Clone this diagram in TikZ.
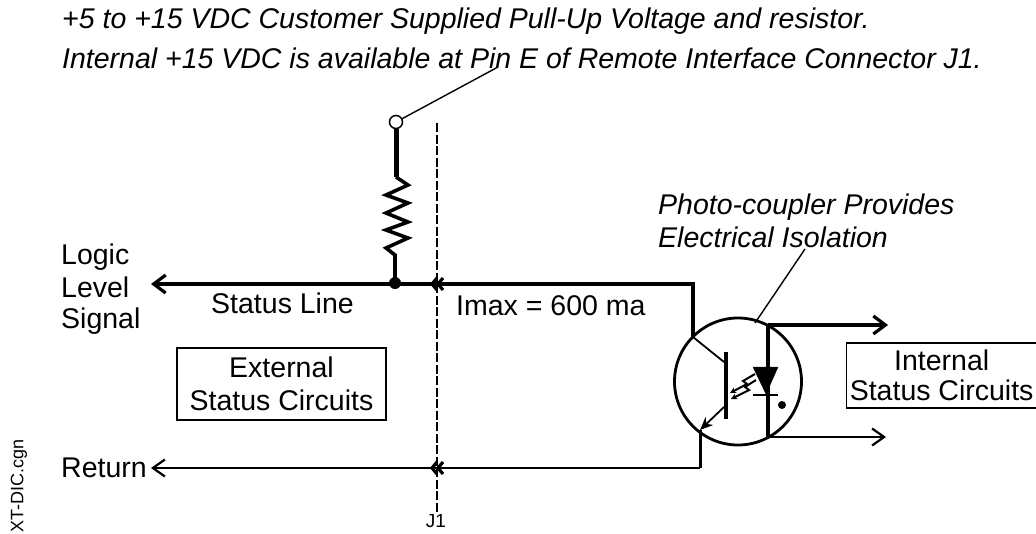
\documentclass[tikz,border=0pt]{standalone}
\usepackage{fontspec}
\setmainfont{Liberation Sans}
\usetikzlibrary{arrows.meta}
\tikzset{
  thick line/.style={line width=3.2pt},
  thin line/.style={line width=1.4pt},
  openhead/.style={-{Straight Barb[length=12pt,width=17pt,line width=2.2pt]}},
  boldhead/.style={-{Straight Barb[length=12pt,width=18pt,line width=3.2pt]}},
  lab/.style={inner sep=0pt,font=\fontsize{28.5}{32}\selectfont,text=black},
  ital/.style={lab,font=\fontsize{28.5}{32}\selectfont\itshape,anchor=west},
  pinmark/.style={line width=3.2pt,line join=miter},
}
\begin{document}
\begin{tikzpicture}[x=1pt,y=-1pt,line join=miter]
\useasboundingbox (0,0) rectangle (1036,533);
% heading
\node[ital] (h1) at (62,21) {+5 to +15 VDC Customer Supplied Pull-Up Voltage and resistor.};
\node[ital] (h2) at (62,58) {Internal +15 VDC is available at Pin E of Remote Interface Connector J1.};
% pull-up
\node[circle,draw,line width=1.5pt,fill=white,minimum size=13pt,inner sep=0pt] (pin) at (396,122) {};
\coordinate (leader) at (498,67);
\draw[thin line] (pin) -- (leader);
\coordinate (rtop) at (396,177);
\coordinate (rbot) at (395,283);
\draw[line width=5pt] (pin) -- (rtop);
\draw[line width=3.6pt] (rtop) -- (408,185) -- (386,195) -- (408,203) -- (386,213) -- (408,222) -- (386,230) -- (408,238) -- (386,248) -- (395,255) -- (rbot);
\node[circle,fill=black,minimum size=12pt,inner sep=0pt] (dot) at (rbot) {};
% J1 dashed
\coordinate (jtop) at (437,123);
\coordinate (jbot) at (437,512);
\draw[line width=1.3pt,dash pattern=on 9pt off 2.5pt] (jtop) -- (jbot);
\node[lab,font=\fontsize{19}{19}\selectfont] (j1) at (436,521) {J1};
% status line
\coordinate (slr) at (693,284);
\coordinate (sll) at (151,284);
\coordinate (q1) at (693,337);
\draw[thick line,boldhead] (q1) -- (slr) -- (sll);
\draw[pinmark] (437,278) -- (432,284) -- (437,290) (443,278) -- (438,284) -- (443,290);
% return
\coordinate (q2) at (700,430);
\coordinate (rr) at (700,468);
\coordinate (rl) at (151,468);
\draw[line width=3pt] (q2) -- (rr);
\draw[line width=2.2pt,openhead] (rr) -- (rl);
\draw[pinmark] (437,462) -- (432,468) -- (437,474) (443,462) -- (438,468) -- (443,474);
% labels left
\node[lab,anchor=west] (l1) at (61,257) {Logic};
\node[lab,anchor=west] (l2) at (61,287) {Level};
\node[lab,anchor=west] (l3) at (61,321) {Signal};
\node[lab,anchor=west] (sl) at (211,303) {Status Line};
\node[lab,anchor=west] (im) at (456,306) {Imax = 600 ma};
\node[lab,anchor=west] (ret) at (61,468) {Return};
\node[draw,line width=1.3pt,minimum width=209pt,minimum height=72pt,inner sep=0pt,align=center,font=\fontsize{28.5}{33}\selectfont] (ext) at (281.5,384) {External\\Status Circuits};
\node[draw,line width=1.3pt,minimum width=190pt,minimum height=65pt,inner sep=0pt,align=center,anchor=west,font=\fontsize{28.5}{30}\selectfont] (int) at (846,375.5) {\raisebox{-1pt}{Internal}\\\raisebox{-1pt}{Status Circuits}};
\node[ital] (ph1) at (658,207) {Photo-coupler Provides};
\node[ital] (ph2) at (658,237) {Electrical Isolation};
\coordinate (phl) at (805,249);
% photocoupler
\node[circle,draw,line width=2.8pt,minimum size=127pt,inner sep=0pt] (pc) at (738,381.5) {};
\draw[thin line] (phl) -- (755,323);
% transistor
\draw[line width=3.6pt] (726,352) -- (726,419);
\draw[line width=1.8pt] (q1) -- (724,362);
\draw[line width=1.8pt,-{Stealth[length=13pt,width=11pt]}] (724,407) -- (q2);
% diode
\coordinate (dt) at (768,325);
\coordinate (db) at (768,437);
\draw[line width=4pt] (dt) -- (db);
\draw[fill=black,draw=black] (753,367) -- (778,367) -- (766,394) -- cycle;
\draw[line width=2.8pt] (753,395) -- (778,395);
\node[circle,fill=black,minimum size=8pt,inner sep=0pt] (pol) at (782,405) {};
% light rays
\draw[line width=2pt,-{Stealth[length=6pt,width=6pt]}] (755,374) -- (743,381) -- (747,384) -- (730,393);
\draw[line width=2pt,-{Stealth[length=6pt,width=6pt]}] (756,380) -- (745,387) -- (749,390) -- (731,399);
% outputs
\coordinate (o1) at (888,325);
\coordinate (o2) at (886,437);
\draw[line width=3.4pt,boldhead] (dt) -- (o1);
\draw[line width=1.8pt,openhead] (db) -- (o2);
% side label
\node[lab,rotate=90,font=\fontsize{18}{18}\selectfont,anchor=west] (xt) at (19,533) {XT-DIC.cgn};
\end{tikzpicture}
\end{document}
